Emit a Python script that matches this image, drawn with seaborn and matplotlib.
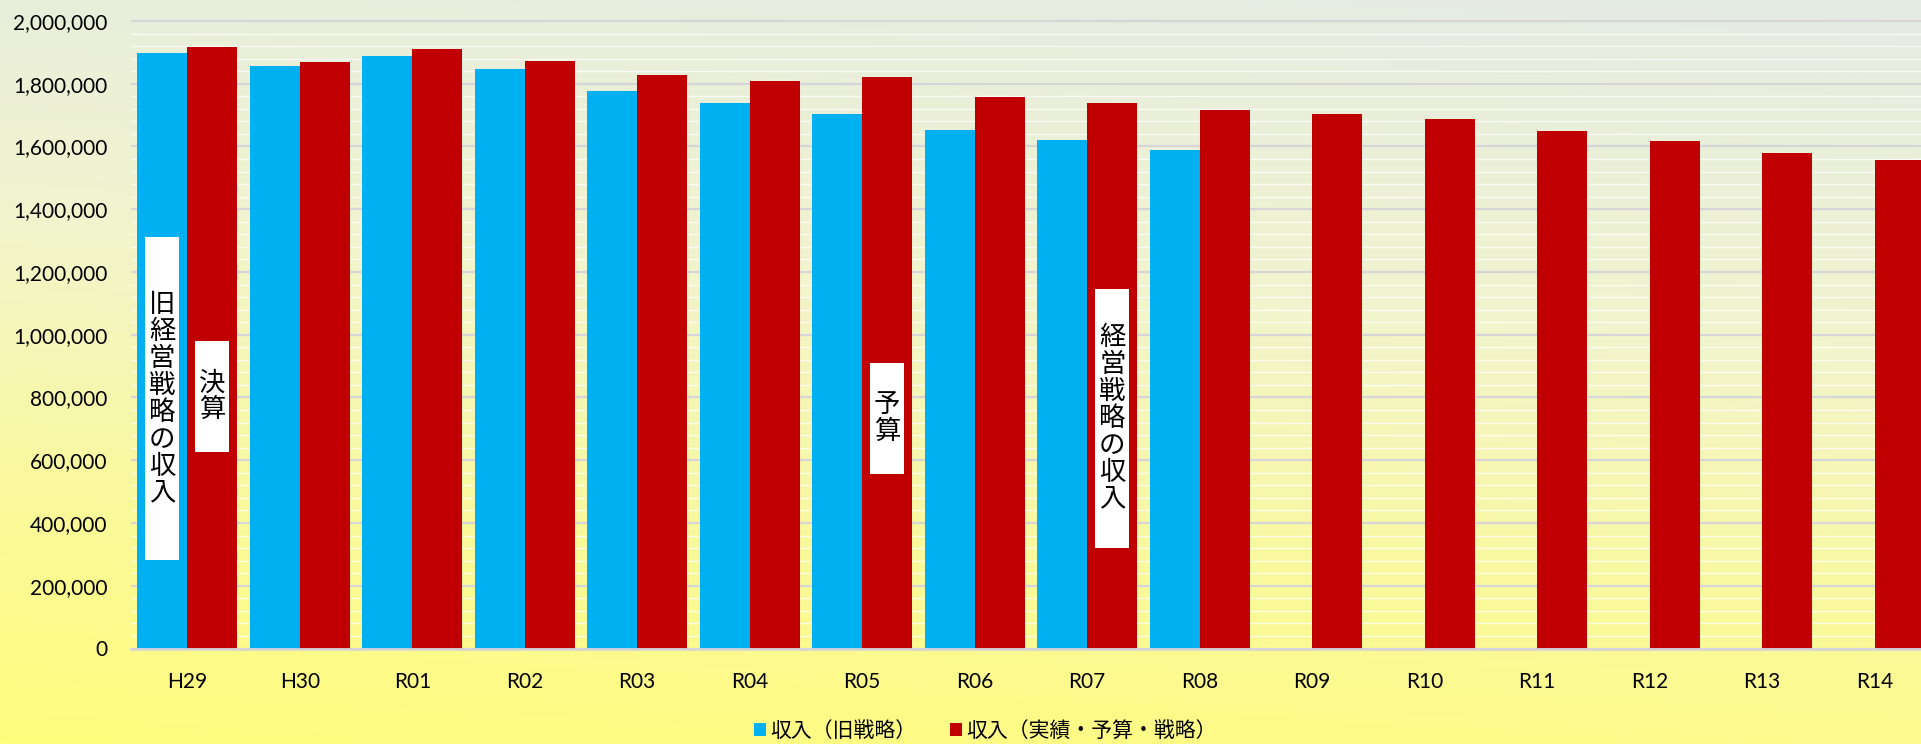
import numpy as np
import pandas as pd
import matplotlib
matplotlib.use("Agg")
import matplotlib.pyplot as plt
import seaborn as sns
from matplotlib.ticker import MultipleLocator, FuncFormatter
from matplotlib.patches import Rectangle

years = ["H29", "H30", "R01", "R02", "R03", "R04", "R05", "R06",
         "R07", "R08", "R09", "R10", "R11", "R12", "R13", "R14"]

old_plan = [1897000, 1858000, 1889000, 1847000, 1778000, 1737000, 1702000,
            1651000, 1621000, 1588000, np.nan, np.nan, np.nan, np.nan,
            np.nan, np.nan]

actual_plan = [1916000, 1869000, 1910000, 1873000, 1829000, 1810000, 1823000,
               1758000, 1739000, 1717000, 1705000, 1688000, 1649000, 1616000,
               1578000, 1557000]

series_names = ["収入（旧戦略）", "収入（実績・予算・戦略）"]

# annotation labels: (text, category, hue slot, bottom value, top value)
notes = [
    ("旧経営戦略の収入", 0, 0, 282000, 1311000),
    ("決算", 0, 1, 627000, 980000),
    ("予算", 6, 1, 557000, 910000),
    ("経営戦略の収入", 8, 1, 321000, 1146000),
]

df = pd.DataFrame({
    "year": years * 2,
    "value": old_plan + actual_plan,
    "series": [series_names[0]] * len(years) + [series_names[1]] * len(years),
})

sns.set_theme(style="white")
plt.rcParams["font.family"] = ["Lato", "Noto Sans CJK JP", "DejaVu Sans"]
plt.rcParams["text.color"] = "black"
plt.rcParams["xtick.color"] = "black"
plt.rcParams["ytick.color"] = "black"

W, H = 1921, 744
fig = plt.figure(figsize=(W / 100, H / 100), dpi=100)

# background gradient (grey-green top -> yellow bottom)
bg = fig.add_axes([0, 0, 1, 1], zorder=-10)
yy, xx = np.mgrid[0:1:200j, 0:1:400j]
t = np.clip(yy * 0.85 + (1 - xx) * 0.15, 0, 1)
stops = np.array([0.0, 0.4, 0.72, 1.0])
cols = np.array([[228, 235, 228], [242, 244, 205], [250, 249, 155], [255, 253, 125]]) / 255
img = np.stack([np.interp(t, stops, cols[:, k]) for k in range(3)], axis=-1)
bg.imshow(img, aspect="auto", extent=[0, 1, 0, 1])
bg.axis("off")

left, right = 131, 1931
bottom_px, top_px = 648.5, 14.7
ax = fig.add_axes([left / W, (H - bottom_px) / H, (right - left) / W,
                   (bottom_px - top_px) / H])
ax.set_facecolor("none")

sns.barplot(data=df, x="year", y="value", hue="series",
            palette=["#00B0F0", "#C00000"], saturation=1, width=0.89,
            errorbar=None, linewidth=0, ax=ax)

ax.set_xlim(-0.5, len(years) - 0.5)
ax.set_ylim(0, 2020000)
ax.yaxis.set_major_locator(MultipleLocator(200000))
ax.yaxis.set_minor_locator(MultipleLocator(40000))
ax.yaxis.set_major_formatter(FuncFormatter(lambda v, p: f"{int(v):,}"))
ax.set_axisbelow(True)
ax.grid(which="major", axis="y", color="#d6d6d9", lw=1.6)
ax.grid(which="minor", axis="y", color="white", lw=1.0, alpha=0.75)
ax.set_xlabel("")
ax.set_ylabel("")
for s in ["top", "right", "left"]:
    ax.spines[s].set_visible(False)
ax.spines["bottom"].set_color("#d6d6d9")
ax.spines["bottom"].set_linewidth(2)
ax.tick_params(axis="both", which="both", length=0, labelcolor="black")
ax.tick_params(axis="y", pad=17, labelsize=15)
ax.tick_params(axis="x", pad=17, labelsize=15)

# white label boxes with vertical text
slot_w = 0.89 / 2
box_w = 0.30
for text, cat, slot, lo, hi in notes:
    cx = cat - 0.89 / 4 + slot * slot_w
    ax.add_patch(Rectangle((cx - box_w / 2, lo), box_w, hi - lo,
                           facecolor="white", edgecolor="none", zorder=5))
    ax.text(cx, (lo + hi) / 2, "\n".join(text), ha="center", va="center",
            fontsize=19, family="Noto Sans CJK JP", linespacing=1.0,
            color="black", zorder=6)

sns.move_legend(ax, "center", bbox_to_anchor=(0.513, 0.0175),
                bbox_transform=fig.transFigure, ncol=2, frameon=False,
                title=None, fontsize=15, handlelength=0.6, handleheight=0.6,
                handletextpad=0.2, columnspacing=1.6)

fig.savefig("out.png", dpi=100)
